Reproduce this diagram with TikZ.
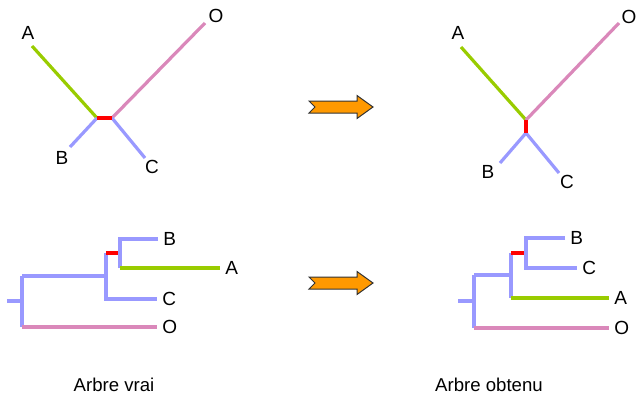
\documentclass[tikz,border=0pt]{standalone}
\usepackage{fontspec}
\setmainfont{Liberation Sans}
\usepackage{tikz}
\usetikzlibrary{positioning, calc}
\definecolor{branch_green}{RGB}{153,204,0}
\definecolor{branch_pink}{RGB}{218,136,186}
\definecolor{branch_blue}{RGB}{153,153,255}
\definecolor{branch_red}{RGB}{255,0,0}
\definecolor{arrow_orange}{RGB}{255,153,0}
\tikzset{
  br_green/.style={line width=1.6pt, draw=branch_green},
  br_pink/.style={line width=1.6pt, draw=branch_pink},
  br_blue/.style={line width=1.6pt, draw=branch_blue},
  br_red/.style={line width=1.6pt, draw=branch_red},
  leaf_label/.style={inner sep=1.5pt, font=\fontsize{9.5}{11}\selectfont},
  leaf_right/.style={leaf_label, anchor=west},
  caption_text/.style={font=\fontsize{9.3}{11}\selectfont},
  big_arrow/.style={draw=black!80, fill=arrow_orange, line width=0.5pt, line join=miter}
}

\begin{document}
\begin{tikzpicture}[x=0.5pt, y=-0.5pt]
  \useasboundingbox (0,0) rectangle (638,392);

  % vrai arbre, non enracine
  \coordinate (tl_x) at (97,118);
  \coordinate (tl_y) at (112,118);
  \coordinate (tl_A) at (32,46);
  \coordinate (tl_O) at (205,23);
  \coordinate (tl_B) at (70,147);
  \coordinate (tl_C) at (145,158);
  \node[leaf_label] (tl_Alab) at (28,33) {A};
  \node[leaf_label] (tl_Olab) at (216,16) {O};
  \node[leaf_label] (tl_Blab) at (62,158) {B};
  \node[leaf_label] (tl_Clab) at (152,167) {C};
  \draw[br_green] (tl_A) -- (tl_x);
  \draw[br_blue] (tl_B) -- (tl_x);
  \draw[br_pink] (tl_O) -- (tl_y);
  \draw[br_blue] (tl_C) -- (tl_y);
  \draw[br_red] (tl_x) -- (tl_y);

  % arbre obtenu, non enracine
  \coordinate (tr_x) at (526,120);
  \coordinate (tr_y) at (526,133);
  \coordinate (tr_A) at (461,47);
  \coordinate (tr_O) at (619,23);
  \coordinate (tr_B) at (500,163);
  \coordinate (tr_C) at (559,173);
  \node[leaf_label] (tr_Alab) at (458,33) {A};
  \node[leaf_label] (tr_Olab) at (629,17) {O};
  \node[leaf_label] (tr_Blab) at (488,172) {B};
  \node[leaf_label] (tr_Clab) at (567,182) {C};
  \draw[br_green] (tr_A) -- (tr_x);
  \draw[br_pink] (tr_O) -- (tr_x);
  \draw[br_blue] (tr_B) -- (tr_y);
  \draw[br_blue] (tr_C) -- (tr_y);
  \draw[br_red] (tr_x) -- (tr_y);

  % vrai arbre, enracine
  \coordinate (bl_root) at (7,301);
  \coordinate (bl_r) at (22,301);
  \coordinate (bl_rt) at (22,276);
  \coordinate (bl_rb) at (22,327);
  \coordinate (bl_O) at (157,327);
  \coordinate (bl_n) at (106,276);
  \coordinate (bl_nt) at (106,253);
  \coordinate (bl_nb) at (106,299);
  \coordinate (bl_C) at (157,299);
  \coordinate (bl_m) at (120,253);
  \coordinate (bl_mt) at (120,239);
  \coordinate (bl_mb) at (120,268);
  \coordinate (bl_B) at (158,239);
  \coordinate (bl_A) at (220,268);
  \draw[br_blue] (bl_root) -- (bl_r);
  \draw[br_blue] (bl_rt) -- (bl_rb);
  \draw[br_pink] (bl_rb) -- (bl_O);
  \draw[br_blue] (bl_rt) -- (bl_n);
  \draw[br_blue] (bl_nt) -- (bl_nb) -- (bl_C);
  \draw[br_red] (bl_nt) -- (bl_m);
  \draw[br_blue] (bl_mb) -- (bl_mt) -- (bl_B);
  \draw[br_green] (bl_mb) -- (bl_A);
  \node[leaf_right, right=1pt of bl_B] (bl_Blab) {B};
  \node[leaf_right, right=1pt of bl_A] (bl_Alab) {A};
  \node[leaf_right, right=1pt of bl_C] (bl_Clab) {C};
  \node[leaf_right, right=1pt of bl_O] (bl_Olab) {O};

  % arbre obtenu, enracine
  \coordinate (br_root) at (458,301);
  \coordinate (br_r) at (474,301);
  \coordinate (br_rt) at (474,275);
  \coordinate (br_rb) at (474,328);
  \coordinate (br_O) at (609,328);
  \coordinate (br_n) at (511,275);
  \coordinate (br_nt) at (511,253);
  \coordinate (br_nb) at (511,298);
  \coordinate (br_A) at (609,298);
  \coordinate (br_m) at (526,253);
  \coordinate (br_mt) at (526,238);
  \coordinate (br_mb) at (526,268);
  \coordinate (br_B) at (565,238);
  \coordinate (br_C) at (577,268);
  \draw[br_blue] (br_root) -- (br_r);
  \draw[br_blue] (br_rt) -- (br_rb);
  \draw[br_pink] (br_rb) -- (br_O);
  \draw[br_blue] (br_rt) -- (br_n);
  \draw[br_blue] (br_nt) -- (br_nb);
  \draw[br_green] (br_nb) -- (br_A);
  \draw[br_red] (br_nt) -- (br_m);
  \draw[br_blue] (br_B) -- (br_mt) -- (br_mb) -- (br_C);
  \node[leaf_right, right=1pt of br_B] (br_Blab) {B};
  \node[leaf_right, right=1pt of br_C] (br_Clab) {C};
  \node[leaf_right, right=1pt of br_A] (br_Alab) {A};
  \node[leaf_right, right=1pt of br_O] (br_Olab) {O};

  % fleches
  \foreach \yy in {107,283}{
    \draw[big_arrow] (309,\yy-6) -- (357,\yy-6) -- (357,\yy-11.5) -- (373,\yy)
      -- (357,\yy+11.5) -- (357,\yy+6) -- (309,\yy+6) -- (315,\yy) -- cycle;
  }

  \node[caption_text] (cap_vrai) at (114,385) {Arbre vrai};
  \node[caption_text] (cap_obtenu) at (489,385) {Arbre obtenu};
\end{tikzpicture}
\end{document}
